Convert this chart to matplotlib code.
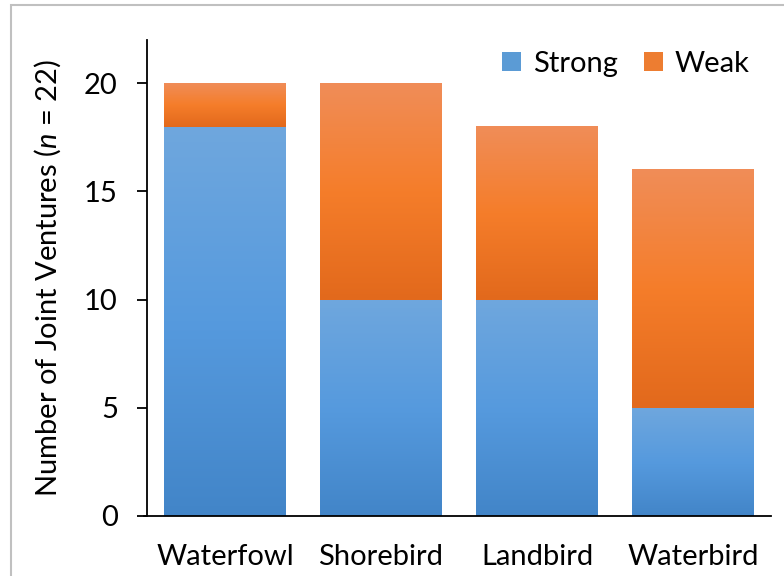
import numpy as np
import matplotlib.pyplot as plt
import matplotlib as mpl
from matplotlib.colors import LinearSegmentedColormap
from matplotlib.patches import Patch, Rectangle

# data
categories = ["Waterfowl", "Shorebird", "Landbird", "Waterbird"]
strong = [18, 10, 10, 5]
weak = [2, 10, 8, 11]

plt.rcParams['font.family'] = ['Lato', 'DejaVu Sans']
plt.rcParams['mathtext.fontset'] = 'custom'
plt.rcParams['mathtext.it'] = 'Lato:italic'
plt.rcParams['mathtext.rm'] = 'Lato'

FS = 21

# Excel-like gradients (top -> bottom)
blue_cmap = LinearSegmentedColormap.from_list(
    "blue", ["#6fa7dd", "#569ade", "#4285c8"])
orange_cmap = LinearSegmentedColormap.from_list(
    "orange", ["#f08d58", "#f57d2a", "#e2691c"])

fig = plt.figure(figsize=(7.84, 5.76), dpi=100)
ax = fig.add_axes([147 / 784, 1 - 516 / 576, (771 - 147) / 784, (516 - 40) / 576])

grad = np.linspace(0, 1, 256).reshape(-1, 1)
width = 0.776


def gradient_bar(x, bottom, height, cmap):
    ax.imshow(grad, cmap=cmap, aspect='auto', interpolation='bilinear',
              extent=(x - width / 2, x + width / 2, bottom, bottom + height),
              origin='upper', zorder=2)


for i, cat in enumerate(categories):
    gradient_bar(i, 0, strong[i], blue_cmap)
    gradient_bar(i, strong[i], weak[i], orange_cmap)

ax.set_xlim(-0.5, len(categories) - 0.5)
ax.set_ylim(0, 22)
ax.set_yticks([0, 5, 10, 15, 20])
ax.set_xticks(range(len(categories)))
ax.set_xticklabels(categories)

for side in ['top', 'right']:
    ax.spines[side].set_visible(False)
ax.spines['left'].set_linewidth(1.3)
ax.spines['bottom'].set_linewidth(1.3)
ax.spines['bottom'].set_bounds(-0.52, 3.5)
ax.tick_params(axis='y', direction='out', length=7, width=1.3, labelsize=FS, pad=14)
ax.tick_params(axis='x', length=0, labelsize=FS, pad=20)

ax.set_ylabel("Number of Joint Ventures ($\\it{n}$ = 22)", fontsize=FS, labelpad=15)

handles = [Patch(facecolor="#5b9bd5", label="Strong"),
           Patch(facecolor="#ed7d31", label="Weak")]
ax.legend(handles=handles, loc='center', ncol=2, frameon=False,
          fontsize=FS, handlelength=0.65, handleheight=0.65, handletextpad=0.4,
          columnspacing=0.9, bbox_to_anchor=(0.767, 0.95))

# chart area border
fig.patches.append(Rectangle((11 / 784, -0.1), 1.2, 1 - 5 / 576 + 0.1,
                             transform=fig.transFigure, fill=False,
                             edgecolor="#c0c0c0", linewidth=1.5))

fig.savefig("out.png", dpi=100)
